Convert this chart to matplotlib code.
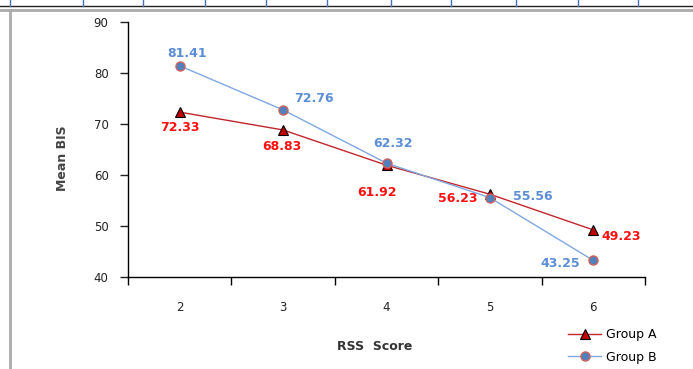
import matplotlib.pyplot as plt
from matplotlib.lines import Line2D

# Data
rss_scores = ["2", "3", "4", "5", "6"]
group_a = [72.33, 68.83, 61.92, 56.23, 49.23]
group_b = [81.41, 72.76, 62.32, 55.56, 43.25]

# label offsets in points (dx, dy) per point
offs_a = [(0, -11), (-1, -12), (-7, -20), (-23, -3), (20, -5)]
offs_b = [(5, 9), (22, 8), (5, 14), (31, 1), (-24, -2)]

fig = plt.figure(figsize=(6.93, 3.69), dpi=100)
ax = fig.add_axes([128 / 693, 1 - 277 / 369, 517 / 693, 255 / 369])

x = list(range(len(rss_scores)))
ax.plot(x, group_a, color="#C0262B", lw=1.0, marker="^", ms=6.5,
        mfc="#C00000", mec="black", mew=0.8, label="Group A", zorder=3)
ax.plot(x, group_b, color="#7FA8E0", lw=1.0, marker="o", ms=6.5,
        mfc="#4F81BD", mec="#D0605C", mew=1.0, label="Group B", zorder=4)

for i, v in enumerate(group_a):
    ax.annotate(f"{v:.2f}", (x[i], v), xytext=offs_a[i], textcoords="offset points",
                ha="center", va="center", color="#FF1010", fontsize=9, fontweight="bold")
for i, v in enumerate(group_b):
    ax.annotate(f"{v:.2f}", (x[i], v), xytext=offs_b[i], textcoords="offset points",
                ha="center", va="center", color="#5B8ED6", fontsize=9, fontweight="bold")

ax.set_xlim(-0.5, len(rss_scores) - 0.5)
ax.set_ylim(40, 90)
ax.set_yticks(range(40, 91, 10))
ax.set_xticks([i - 0.5 for i in range(len(rss_scores) + 1)])
ax.set_xticklabels([])
ax.set_xticks(x, minor=True)
ax.set_xticklabels(rss_scores, minor=True)
ax.tick_params(axis="x", which="major", direction="out", length=6, width=1)
ax.tick_params(axis="x", which="minor", length=0, pad=17, labelsize=8.5, colors="#222222")
ax.tick_params(axis="y", direction="out", length=6, width=1, pad=8, labelsize=8.5, colors="#222222")
for s in ["top", "right"]:
    ax.spines[s].set_visible(False)
ax.spines["left"].set_linewidth(1)
ax.spines["bottom"].set_linewidth(1)

fig.text(63 / 693, 1 - 158 / 369, "Mean BIS", rotation=90, ha="center", va="center",
         fontsize=9, fontweight="bold", color="#444444")
fig.text(375 / 693, 1 - 347 / 369, "RSS  Score", ha="center", va="center",
         fontsize=9, fontweight="bold", color="#333333")

leg = fig.legend(loc="center left", bbox_to_anchor=(562 / 693, 1 - 346 / 369),
                 frameon=False, fontsize=9, handlelength=2.6, handletextpad=0.4,
                 labelspacing=0.75, borderpad=0)

# spreadsheet frame around the chart
fig.add_artist(Line2D([0, 1], [1 - 6 / 369] * 2, color="#222222", lw=1))
fig.add_artist(Line2D([0, 1], [1 - 9.5 / 369] * 2, color="#AAAAAA", lw=2))
fig.add_artist(Line2D([10 / 693] * 2, [0, 1 - 9.5 / 369], color="#AAAAAA", lw=2))
for gx in [10, 83, 143, 205, 266, 327, 391, 451, 516, 578, 638]:
    fig.add_artist(Line2D([gx / 693] * 2, [1 - 6 / 369, 1], color="#4A6FB5", lw=1))

plt.savefig("out.png", dpi=100)
